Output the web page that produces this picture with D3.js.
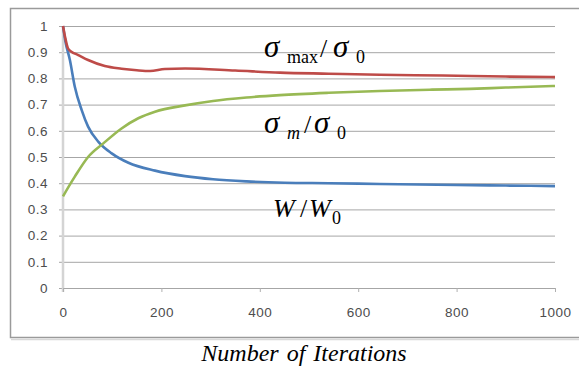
<!DOCTYPE html>
<html>
<head>
<meta charset="utf-8">
<script src="https://cdn.jsdelivr.net/npm/d3@7"></script>
<style>
  html, body { margin: 0; padding: 0; background: #ffffff; }
  svg { display: block; }
</style>
</head>
<body>
<svg id="chart" width="579" height="371"></svg>
<script>
// ---- data ----
const xTicks = [0, 200, 400, 600, 800, 1000];
const yTicks = [0, 0.1, 0.2, 0.3, 0.4, 0.5, 0.6, 0.7, 0.8, 0.9, 1];

const redIter = [0, 4, 10, 17, 30, 51, 85, 119, 150, 177, 207, 248, 350, 441, 540, 644, 772, 900, 1000];
const redVals = [1.0, 0.96, 0.915, 0.902, 0.89, 0.870, 0.847, 0.837, 0.831, 0.828, 0.836, 0.838, 0.830, 0.822, 0.818, 0.814, 0.811, 0.807, 0.805];

const greenIter = [0, 24, 51, 82, 119, 153, 187, 248, 305, 373, 441, 540, 644, 750, 827, 900, 1000];
const greenVals = [0.35, 0.425, 0.50, 0.552, 0.609, 0.648, 0.673, 0.697, 0.714, 0.727, 0.736, 0.745, 0.752, 0.757, 0.760, 0.765, 0.771];

const blueIter = [0, 5, 14, 24, 38, 51, 72, 99, 133, 187, 248, 305, 373, 450, 540, 644, 800, 900, 1000];
const blueVals = [1.0, 0.94, 0.87, 0.768, 0.679, 0.616, 0.558, 0.514, 0.478, 0.448, 0.427, 0.415, 0.407, 0.402, 0.400, 0.397, 0.393, 0.391, 0.389];

const series = [
  { name: "W/W0", iter: blueIter, vals: blueVals, color: "#4a7ebb" },
  { name: "smax/s0", iter: redIter, vals: redVals, color: "#be4b48" },
  { name: "sm/s0", iter: greenIter, vals: greenVals, color: "#98b954" }
];

// ---- layout ----
const svg = d3.select("#chart");
const x = d3.scaleLinear().domain([0, 1000]).range([63, 555]);
const y = d3.scaleLinear().domain([0, 1]).range([288, 26]);

// chart frame (extends past right edge like the reference)
svg.append("rect")
  .attr("x", 10.5).attr("y", 8.5)
  .attr("width", 600).attr("height", 329)
  .attr("fill", "#ffffff")
  .attr("stroke", "#9a9a9a").attr("stroke-width", 1.5);
svg.append("line")
  .attr("x1", 11).attr("x2", 579).attr("y1", 339.5).attr("y2", 339.5)
  .attr("stroke", "#d8d8d8").attr("stroke-width", 1.5);

// gridlines + y labels
const yAxis = d3.axisLeft(y)
  .tickValues(yTicks)
  .tickSize(-(555 - 59))
  .tickPadding(11)
  .tickFormat(d => d3.format("")(+d.toFixed(1)));
const gy = svg.append("g").attr("transform", "translate(59,0)").call(yAxis);
gy.select(".domain").remove();
gy.selectAll(".tick line").attr("stroke", "#a6a6a6").attr("stroke-width", 1);
gy.selectAll(".tick text")
  .attr("fill", "#4d4d4d")
  .style("font-family", "'Liberation Sans', Arial, sans-serif")
  .style("font-size", "13.5px")
  .style("letter-spacing", "0.5px");

// y axis line (light, thick)
svg.append("line")
  .attr("x1", 63).attr("x2", 63).attr("y1", y(1)).attr("y2", 292)
  .attr("stroke", "#d4d4d4").attr("stroke-width", 2.5);

// x axis
const xAxis = d3.axisBottom(x)
  .tickValues(xTicks)
  .tickSize(4)
  .tickPadding(15)
  .tickFormat(d3.format("d"));
const gx = svg.append("g").attr("transform", "translate(0,288)").call(xAxis);
gx.select(".domain").attr("stroke", "#a6a6a6").attr("d", "M63,0.5H555");
gx.selectAll(".tick line").attr("stroke", "#b0b0b0");
gx.selectAll(".tick text")
  .attr("fill", "#4d4d4d")
  .style("font-family", "'Liberation Sans', Arial, sans-serif")
  .style("font-size", "13.5px")
  .style("letter-spacing", "0.5px");

// lines
const line = d3.line()
  .x(d => x(d[0]))
  .y(d => y(d[1]))
  .curve(d3.curveMonotoneX);

series.forEach(s => {
  svg.append("path")
    .datum(s.iter.map((it, i) => [it, s.vals[i]]))
    .attr("fill", "none")
    .attr("stroke", s.color)
    .attr("stroke-width", 2.6)
    .attr("stroke-linejoin", "round")
    .attr("d", line);
});

// annotations
const serif = "'Liberation Serif', 'Times New Roman', serif";
function piece(txt, px, py, size, italic) {
  svg.append("text")
    .attr("x", px).attr("y", py)
    .attr("fill", "#000")
    .style("font-family", serif)
    .style("font-size", size + "px")
    .style("font-style", italic ? "italic" : "normal")
    .text(txt);
}
// σmax / σ0
piece("σ", 264, 57, 31, true);
piece("max", 287, 63, 18, false);
piece("/", 320, 57, 26, false);
piece("σ", 333, 57, 31, true);
piece("0", 356, 63, 18, false);
// σm / σ0
piece("σ", 264, 133, 31, true);
piece("m", 287, 139, 18, true);
piece("/", 304, 133, 26, false);
piece("σ", 314, 133, 31, true);
piece("0", 337, 139, 18, false);
// W / W0
piece("W", 273, 217, 26, true);
piece("/", 300, 217, 26, false);
piece("W", 309, 217, 26, true);
piece("0", 332, 224, 18, false);

// x axis title
svg.append("text")
  .attr("x", 304).attr("y", 361)
  .attr("text-anchor", "middle")
  .attr("fill", "#000")
  .style("font-family", serif)
  .style("font-size", "24px")
  .style("font-style", "italic")
  .style("word-spacing", "2px")
  .text("Number of Iterations");
</script>
</body>
</html>
